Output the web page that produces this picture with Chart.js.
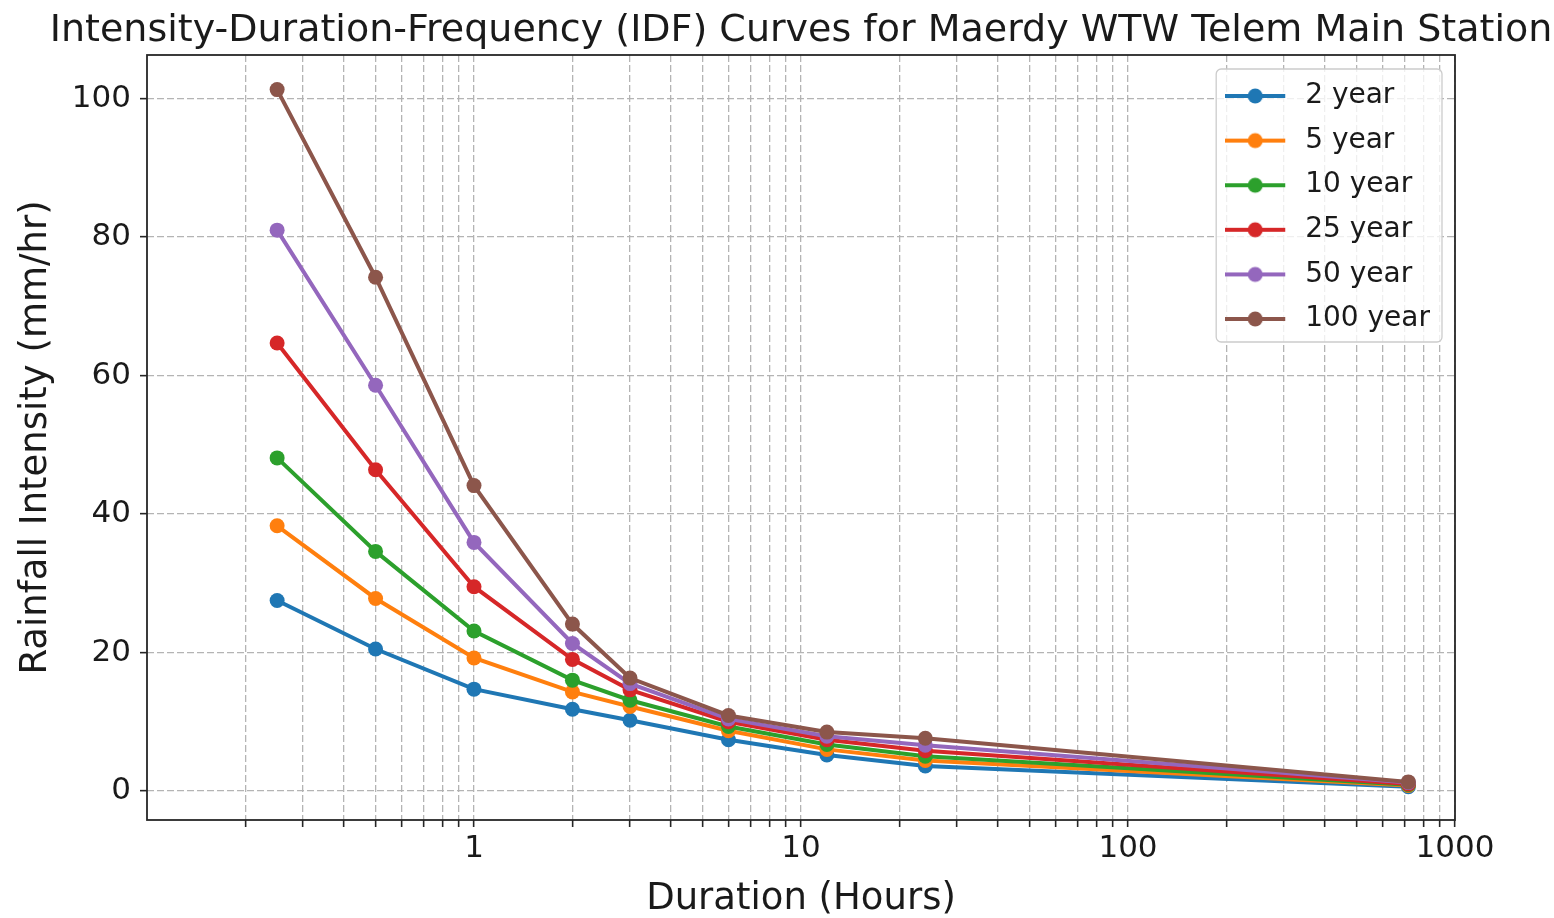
<!DOCTYPE html>
<html>
<head>
<meta charset="utf-8">
<script src="https://cdn.jsdelivr.net/npm/chart.js@4.4.1/dist/chart.umd.min.js"></script>
<style>
html,body{margin:0;padding:0;background:#ffffff;}
#wrap{width:1554px;height:918px;position:relative;}
</style>
</head>
<body>
<div id="wrap"><canvas id="c"></canvas></div>
<script>
// ---- data ----
const durations = [0.25, 0.5, 1, 2, 3, 6, 12, 24, 720];
const seriesLabels = ['2 year', '5 year', '10 year', '25 year', '50 year', '100 year'];
const intensity2yr   = [27.5, 20.5, 14.7, 11.8, 10.2, 7.4, 5.2, 3.6, 0.6];
const intensity5yr   = [38.3, 27.8, 19.2, 14.3, 12.2, 8.7, 6.0, 4.4, 0.8];
const intensity10yr  = [48.1, 34.6, 23.1, 16.0, 13.1, 9.3, 6.7, 5.0, 0.9];
const intensity25yr  = [64.7, 46.4, 29.5, 19.0, 14.6, 10.0, 7.4, 5.8, 1.0];
const intensity50yr  = [81.0, 58.6, 35.9, 21.3, 15.5, 10.4, 7.9, 6.6, 1.2];
const intensity100yr = [101.3, 74.2, 44.1, 24.1, 16.3, 10.9, 8.5, 7.6, 1.3];
const xTickValues = [0.2,0.3,0.4,0.5,0.6,0.7,0.8,0.9,
                     1,2,3,4,5,6,7,8,9,
                     10,20,30,40,50,60,70,80,90,
                     100,200,300,400,500,600,700,800,900,1000];
const xLabelValues = [1, 10, 100, 1000];
const yTickValues = [0, 20, 40, 60, 80, 100];

// ---- styles ----
const colors = ['#1f77b4', '#ff7f0e', '#2ca02c', '#d62728', '#9467bd', '#8c564b'];
const FONT = "'DejaVu Sans', sans-serif";
const TEXT = '#1a1a1a';
const LINE_W = 4;
const MARKER_R = 7.5;
Chart.defaults.font.family = FONT;
Chart.defaults.color = TEXT;

const allSeries = [intensity2yr, intensity5yr, intensity10yr, intensity25yr, intensity50yr, intensity100yr];
const datasets = allSeries.map((vals, i) => ({
  label: seriesLabels[i],
  data: durations.map((d, j) => ({x: d, y: vals[j]})),
  borderColor: colors[i],
  backgroundColor: colors[i],
  pointBackgroundColor: colors[i],
  pointBorderColor: colors[i],
  pointBorderWidth: 0,
  pointRadius: MARKER_R,
  pointHoverRadius: MARKER_R,
  borderWidth: LINE_W,
  tension: 0,
  fill: false,
  order: allSeries.length - i
}));

const iconCache = {};
function legendIcon(color) {
  if (iconCache[color]) return iconCache[color];
  const cv = document.createElement('canvas');
  cv.width = 66; cv.height = 20;
  const g = cv.getContext('2d');
  g.strokeStyle = color; g.lineWidth = LINE_W;
  g.beginPath(); g.moveTo(0, 10); g.lineTo(60, 10); g.stroke();
  g.fillStyle = color;
  g.beginPath(); g.arc(30, 10, MARKER_R, 0, Math.PI * 2); g.fill();
  iconCache[color] = cv;
  return cv;
}

const framePlugin = {
  id: 'framePlugin',
  afterUpdate(chart) {
    const ca = chart.chartArea;
    // centre the title over the plot area without squeezing it
    const tb = chart.titleBlock;
    if (tb) {
      const cx = (ca.left + ca.right) / 2;
      tb.left = cx - 770;
      tb.right = cx + 770;
      tb.width = 1540;
    }
    const lg = chart.legend;
    if (!lg || !lg.legendHitBoxes) return;
    const pad = lg.options.labels.padding;
    const fs = lg.options.labels.font.size;
    let maxW = 0;
    lg.legendHitBoxes.forEach(h => { maxW = Math.max(maxW, h.width); });
    const n = lg.legendHitBoxes.length;
    const fw = 9 + maxW + 12;
    const fh = 13 + n * fs + (n - 1) * pad + 9;
    const fx = ca.right - 13 - fw;
    const fy = ca.top + 14;
    lg._frame = {x: fx, y: fy, w: fw, h: fh};
    lg.left = fx + 9 - pad;
    lg.top = fy + 13 - pad;
    lg.right = lg.left + fw;
    lg.bottom = ca.bottom;
    lg.adjustHitBoxes();
    if (!lg._wrapped) {
      const origDraw = lg.draw;
      lg.draw = function(...args) {
        const f = this._frame;
        if (f) {
          const ctx = this.ctx;
          ctx.save();
          ctx.beginPath();
          ctx.roundRect(f.x, f.y, f.w, f.h, 5);
          ctx.fillStyle = 'rgba(255,255,255,0.8)';
          ctx.fill();
          ctx.lineWidth = 1.3;
          ctx.strokeStyle = '#cccccc';
          ctx.stroke();
          ctx.restore();
        }
        return origDraw.apply(this, args);
      };
      lg._wrapped = true;
    }
  },
  afterDraw(chart) {
    const ca = chart.chartArea;
    const ctx = chart.ctx;
    ctx.save();
    ctx.strokeStyle = '#262626';
    ctx.lineWidth = 1.8;
    ctx.strokeRect(ca.left, ca.top, ca.right - ca.left, ca.bottom - ca.top);
    ctx.restore();
  }
};

const gridStyle = {
  color: 'rgba(176,176,176,0.95)',
  lineWidth: 1.3,
  drawTicks: true,
  tickLength: 7,
  tickColor: '#262626',
  tickWidth: 1.6,
  tickBorderDash: []
};
const borderStyle = { display: false, dash: [7, 3] };

new Chart(document.getElementById('c'), {
  type: 'line',
  data: { datasets },
  options: {
    responsive: true,
    maintainAspectRatio: false,
    animation: false,
    devicePixelRatio: 1,
    layout: { padding: { left: 0, right: 99, top: 0, bottom: 0 } },
    plugins: {
      title: {
        display: true,
        text: 'Intensity-Duration-Frequency (IDF) Curves for Maerdy WTW Telem Main Station',
        font: { family: FONT, size: 38, weight: 'normal', lineHeight: 1.2 },
        color: TEXT,
        padding: { top: 8, bottom: 1.4 },
        fullSize: false
      },
      legend: {
        display: true,
        position: 'chartArea',
        align: 'start',
        labels: {
          font: { family: FONT, size: 28 },
          color: TEXT,
          padding: 16.6,
          usePointStyle: true,
          pointStyleWidth: 66,
          sort: (a, b) => a.datasetIndex - b.datasetIndex,
          generateLabels(chart) {
            const items = Chart.defaults.plugins.legend.labels.generateLabels(chart);
            items.forEach(it => {
              it.pointStyle = legendIcon(colors[it.datasetIndex]);
              it.fontColor = TEXT;
              it.lineWidth = 0;
            });
            return items;
          }
        }
      },
      tooltip: { enabled: false }
    },
    scales: {
      x: {
        type: 'logarithmic',
        min: 0.1,
        max: 1000,
        afterBuildTicks(scale) {
          scale.ticks = xTickValues.map(v => ({ value: v, major: xLabelValues.includes(v) }));
        },
        afterFit(scale) { scale.height = 98; },
        ticks: {
          autoSkip: false,
          maxRotation: 0,
          minRotation: 0,
          padding: 3,
          font: { family: FONT, size: 31 },
          color: TEXT,
          callback: (v) => xLabelValues.includes(v) ? String(v) : ''
        },
        grid: gridStyle,
        border: borderStyle,
        title: {
          display: true,
          text: 'Duration (Hours)',
          font: { family: FONT, size: 37, lineHeight: 1.0 },
          color: TEXT,
          padding: { top: 0, bottom: 0 }
        }
      },
      y: {
        type: 'linear',
        min: -4.2,
        max: 106.3,
        afterBuildTicks(scale) {
          scale.ticks = yTickValues.map(v => ({ value: v }));
        },
        afterFit(scale) { scale.width = 147; },
        ticks: {
          padding: 9,
          font: { family: FONT, size: 31 },
          color: TEXT,
          callback: (v) => String(v)
        },
        grid: gridStyle,
        border: borderStyle,
        title: {
          display: true,
          text: 'Rainfall Intensity (mm/hr)',
          font: { family: FONT, size: 37 },
          color: TEXT,
          padding: { top: 14, bottom: 0 }
        }
      }
    }
  },
  plugins: [framePlugin]
});
</script>
</body>
</html>
